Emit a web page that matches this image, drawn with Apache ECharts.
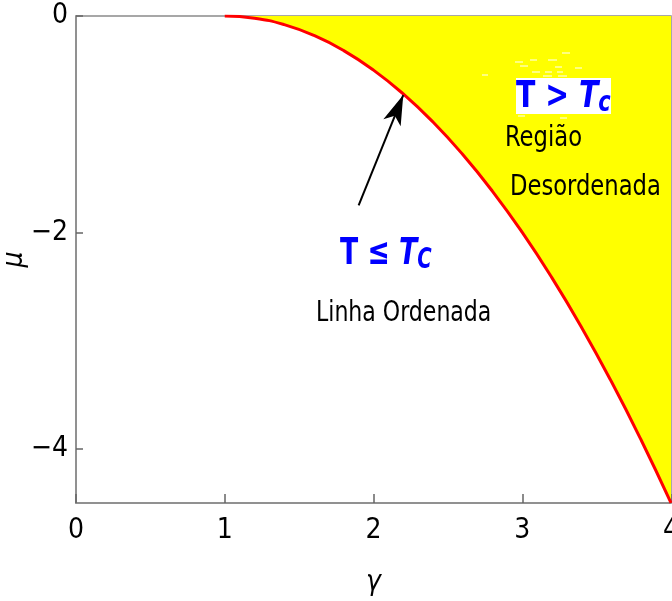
<!DOCTYPE html>
<html>
<head>
<meta charset="utf-8">
<script src="https://cdn.jsdelivr.net/npm/echarts@6/dist/echarts.min.js"></script>
<style>
  html, body { margin: 0; padding: 0; background: #fff; }
  #chart { width: 672px; height: 601px; }
</style>
</head>
<body>
<div id="chart"></div>
<script>
// gamma values and critical line mu(gamma)
const gammaValues = [1, 1.2, 1.4, 1.6, 1.8, 2, 2.2, 2.4, 2.6, 2.8, 3, 3.2, 3.4, 3.6, 3.8, 4];
const muValues = [0, -0.02, -0.08, -0.18, -0.32, -0.5, -0.72, -0.98, -1.28, -1.62, -2, -2.42, -2.88, -3.38, -3.92, -4.5];
const xTicks = [0, 1, 2, 3, 4];
const yTicks = [-4, -2, 0];
// arrow from label to the line
const arrowFrom = [1.9, -1.75];
const arrowTo = [2.2, -0.73];

const font = "'DejaVu Sans Condensed', 'Liberation Sans Narrow', 'Arial Narrow', sans-serif";
const axisGray = "#8a8a8a";
const blue = "#0000ff";

// little white specks left in the yellow area of the original export
const specks = [
  [562, 53, 8], [515, 62, 8], [530, 60, 7], [548, 60, 9], [520, 66, 8], [555, 67, 7],
  [575, 68, 7], [482, 75, 6], [532, 72, 8], [545, 72, 7], [557, 72, 6], [543, 76, 9],
  [558, 76, 9], [518, 116, 7], [560, 118, 7],
];

const chart = echarts.init(document.getElementById("chart"));

const lineData = gammaValues.map((g, i) => [g, muValues[i]]);

function label(text, x, y, sx, size) {
  return {
    type: "text",
    x: x,
    y: y,
    scaleX: sx,
    z: 11,
    style: { text: text, fontFamily: font, fontSize: size, fill: "#000", verticalAlign: "top" },
  };
}

function blueLabel(main, sub, x, y, sx) {
  return {
    type: "text",
    x: x,
    y: y,
    scaleX: sx,
    z: 11,
    style: {
      text: "{b|" + main + "}{i|T}{s|" + sub + "}",
      verticalAlign: "top",
      rich: {
        b: { fontFamily: font, fontSize: 38, fontWeight: "bold", fill: blue },
        i: { fontFamily: font, fontSize: 38, fontWeight: "bold", fontStyle: "italic", fill: blue },
        s: { fontFamily: font, fontSize: 28, fontWeight: "bold", fontStyle: "italic", fill: blue, verticalAlign: "bottom", padding: [14, 0, 0, 0] },
      },
    },
  };
}

const graphics = specks.map(([x, y, w]) => ({
  type: "line",
  z: 9,
  shape: { x1: x, y1: y, x2: x + w, y2: y },
  style: { stroke: "#fff", lineWidth: 1 },
}));

graphics.push(
  { type: "rect", shape: { x: 516, y: 78, width: 95, height: 36 }, style: { fill: "#fff" }, z: 10 },
  blueLabel("T > ", "c", 516, 76, 0.83),
  label("Região", 505, 125, 0.9, 28),
  label("Desordenada", 510, 174, 0.9, 28),
  blueLabel("T ≤ ", "C", 340, 233, 0.78),
  label("Linha Ordenada", 316, 300, 0.875, 28)
);

const option = {
  animation: false,
  grid: {
    left: 76,
    right: 1,
    top: 16,
    bottom: 98,
    outerBoundsMode: "none",
    containLabel: false,
    show: true,
    borderColor: axisGray,
    borderWidth: 1.5,
    backgroundColor: "transparent",
  },
  xAxis: {
    type: "value",
    position: "bottom",
    min: 0,
    max: 4,
    interval: 1,
    name: "γ",
    nameLocation: "middle",
    nameGap: 66,
    nameMoveOverlap: false,
    nameTextStyle: { fontFamily: font, fontSize: 28, fontStyle: "italic", color: "#000" },
    axisLine: { show: true, onZero: false, lineStyle: { color: axisGray, width: 1.5 } },
    axisTick: { show: true, inside: true, length: 9, lineStyle: { color: "#666", width: 1.5 } },
    axisLabel: {
      fontFamily: font,
      fontSize: 28,
      color: "#000",
      margin: 14,
      showMaxLabel: true,
    },
    splitLine: { show: false },
  },
  yAxis: {
    type: "value",
    position: "left",
    min: -4.5,
    max: 0,
    name: "μ",
    nameLocation: "middle",
    nameGap: 47,
    nameMoveOverlap: false,
    nameTextStyle: { fontFamily: font, fontSize: 28, fontStyle: "italic", color: "#000" },
    axisLine: { show: true, onZero: false, lineStyle: { color: axisGray, width: 1.5 } },
    axisTick: { show: true, inside: true, length: 7, lineStyle: { color: "#666", width: 1.5 }, customValues: yTicks },
    axisLabel: {
      fontFamily: font,
      fontSize: 28,
      color: "#000",
      margin: 8,
      customValues: yTicks,
      formatter: (v) => (v < 0 ? "\u2212" + Math.abs(v) : String(v)),
    },
    splitLine: { show: false },
  },
  series: [
    {
      type: "line",
      data: lineData,
      smooth: true,
      showSymbol: false,
      lineStyle: { color: "#ff0000", width: 3 },
      areaStyle: { color: "#ffff00", opacity: 1, origin: "end" },
      z: 2,
      markLine: {
        silent: true,
        symbol: ["none", "arrow"],
        symbolSize: [14, 30],
        label: { show: false },
        lineStyle: { color: "#000", width: 2, type: "solid" },
        data: [[{ coord: arrowFrom }, { coord: arrowTo }]],
      },
    },
  ],
  graphic: graphics,
};

chart.setOption(option);
</script>
</body>
</html>
